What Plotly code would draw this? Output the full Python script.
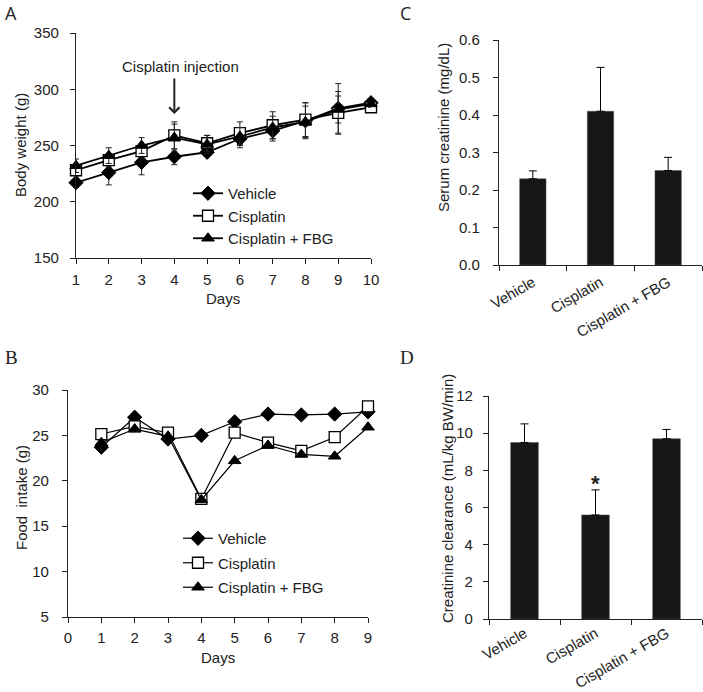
import plotly.graph_objects as go

W, H = 703, 692
FONT = "Liberation Sans, Arial, sans-serif"

# ---------- Panel A: body weight ----------
days_a = [1, 2, 3, 4, 5, 6, 7, 8, 9, 10]
bw_vehicle = [217, 226, 235, 240, 244, 256, 263, 272, 283, 288]
bw_vehicle_err = [3, 11, 11, 7, 3, 8, 9, 16, 22, 3]
bw_cis = [228, 237, 245, 259, 252, 261, 268, 273, 279, 284]
bw_cis_err = [5, 6, 6, 12, 7, 10, 12, 15, 19, 3]
bw_fbg = [232, 241, 250, 257, 251, 258, 266, 271, 282, 287]
bw_fbg_err = [6, 7, 7, 12, 8, 8, 10, 14, 12, 3]

# ---------- Panel B: food intake ----------
days_b = [1, 2, 3, 4, 5, 6, 7, 8, 9]
fi_vehicle = [23.7, 27.0, 24.6, 25.0, 26.5, 27.35, 27.25, 27.35, 27.6]
fi_cis = [25.15, 26.0, 25.3, 18.0, 25.3, 24.2, 23.3, 24.8, 28.2]
fi_fbg = [24.2, 25.7, 24.9, 17.9, 22.2, 23.9, 22.9, 22.7, 25.9]

# ---------- Panels C, D ----------
groups = ["Vehicle", "Cisplatin", "Cisplatin + FBG"]
scr = [0.23, 0.41, 0.252]
scr_err = [0.021, 0.117, 0.035]
ccl = [9.5, 5.6, 9.7]
ccl_err = [1.0, 1.35, 0.5]

series_names = ["Vehicle", "Cisplatin", "Cisplatin + FBG"]


def px_x(p):
    return p / W


def px_y(p):
    return 1 - p / H


fig = go.Figure()

marker_styles = [
    dict(symbol="diamond", size=11, color="black", line=dict(color="black", width=1)),
    dict(symbol="square", size=11, color="white", line=dict(color="black", width=1.3)),
    dict(symbol="triangle-up", size=11, color="black", line=dict(color="black", width=1)),
]

# Panel A traces
for name, ys, es, mk in zip(series_names, [bw_vehicle, bw_cis, bw_fbg],
                            [bw_vehicle_err, bw_cis_err, bw_fbg_err], marker_styles):
    fig.add_trace(go.Scatter(
        x=days_a, y=ys, name=name, mode="lines+markers",
        line=dict(color="black", width=1.8), marker=mk,
        error_y=dict(type="data", array=es, color="#222", thickness=1, width=3),
        xaxis="x", yaxis="y", legend="legend", cliponaxis=False,
    ))

# Panel B traces
for name, ys, mk in zip(series_names, [fi_vehicle, fi_cis, fi_fbg], marker_styles):
    fig.add_trace(go.Scatter(
        x=days_b, y=ys, name=name, mode="lines+markers",
        line=dict(color="black", width=1.2), marker=mk,
        xaxis="x2", yaxis="y2", legend="legend2", legendgroup=name + "b",
        cliponaxis=False,
    ))

# Panel C bars
fig.add_trace(go.Bar(
    x=groups, y=scr, width=0.39, marker=dict(color="#161616", line=dict(color="#555", width=0.5)),
    error_y=dict(type="data", symmetric=False, array=scr_err, arrayminus=[0, 0, 0],
                 color="black", thickness=1, width=4),
    xaxis="x3", yaxis="y3", showlegend=False,
))

# Panel D bars
fig.add_trace(go.Bar(
    x=groups, y=ccl, width=0.39, marker=dict(color="#161616", line=dict(color="#555", width=0.5)),
    error_y=dict(type="data", symmetric=False, array=ccl_err, arrayminus=[0, 0, 0],
                 color="black", thickness=1, width=4),
    xaxis="x4", yaxis="y4", showlegend=False,
))

tickfont = dict(family=FONT, size=15, color="#222")
axis_common = dict(showline=True, linecolor="#222", linewidth=1.2, ticks="outside",
                   ticklen=5, tickcolor="#222", tickwidth=1.2, showgrid=False,
                   zeroline=False, tickfont=tickfont, automargin=False)

fig.update_layout(
    width=W, height=H, margin=dict(l=0, r=0, t=0, b=0),
    paper_bgcolor="white", plot_bgcolor="white",
    font=dict(family=FONT, size=15, color="#222"),
    bargap=0.6,
    xaxis=dict(domain=[px_x(76), px_x(371)], range=[1, 10], anchor="y",
               tickmode="array", tickvals=days_a, ticklabelstandoff=3, **axis_common),
    yaxis=dict(domain=[px_y(258), px_y(33)], range=[150, 350], anchor="x",
               tickmode="array", tickvals=[150, 200, 250, 300, 350], ticklabelstandoff=8,
               **axis_common),
    xaxis2=dict(domain=[px_x(68), px_x(368)], range=[0, 9], anchor="y2",
                tickmode="array", tickvals=list(range(0, 10)), ticklabelstandoff=2, **axis_common),
    yaxis2=dict(domain=[px_y(617), px_y(390)], range=[5, 30], anchor="x2",
                tickmode="array", tickvals=[5, 10, 15, 20, 25, 30], ticklabelstandoff=10,
                **axis_common),
    xaxis3=dict(domain=[px_x(499), px_x(702)], range=[-0.5, 2.5], anchor="y3",
                tickson="boundaries", tickangle=-30, type="category", ticklabelstandoff=2,
                **axis_common),
    yaxis3=dict(domain=[px_y(265), px_y(40)], range=[0, 0.6], anchor="x3",
                tickmode="array", tickvals=[0, 0.1, 0.2, 0.3, 0.4, 0.5, 0.6],
                tickformat=".1f", ticklabelstandoff=10, **axis_common),
    xaxis4=dict(domain=[px_x(489), px_x(702)], range=[-0.5, 2.5], anchor="y4",
                tickson="boundaries", tickangle=-30, type="category", ticklabelstandoff=-1,
                **axis_common),
    yaxis4=dict(domain=[px_y(619), px_y(396)], range=[0, 12], anchor="x4",
                tickmode="array", tickvals=[0, 2, 4, 6, 8, 10, 12], ticklabelstandoff=7,
                **axis_common),
    legend=dict(x=px_x(188), y=px_y(177), xanchor="left", yanchor="top",
                bgcolor="rgba(0,0,0,0)", font=dict(family=FONT, size=15, color="#222"),
                tracegroupgap=0, itemwidth=30),
    legend2=dict(x=px_x(178), y=px_y(522), xanchor="left", yanchor="top",
                 bgcolor="rgba(0,0,0,0)", font=dict(family=FONT, size=15, color="#222"),
                 tracegroupgap=2, itemwidth=30),
)

ann = []
# axis titles
ann.append(dict(text="Body weight (g)", x=px_x(21), y=px_y(145), textangle=-90))
ann.append(dict(text="Days", x=px_x(223), y=px_y(298)))
ann.append(dict(text="Food\u00a0 intake (g)", x=px_x(21), y=px_y(498), textangle=-90))
ann.append(dict(text="Days", x=px_x(218), y=px_y(657)))
ann.append(dict(text="Serum creatinine (mg/dL)", x=px_x(443), y=px_y(128), textangle=-90))
ann.append(dict(text="Creatinine clearance (mL/kg BW/min)", x=px_x(447), y=px_y(499), textangle=-90))
for a in ann:
    a.update(xref="paper", yref="paper", showarrow=False, xanchor="center", yanchor="middle",
             font=dict(family=FONT, size=15, color="#222"))

# panel letters
ann.append(dict(text="A", x=px_x(3), y=px_y(13), xref="paper", yref="paper", showarrow=False,
                xanchor="left", yanchor="middle", font=dict(family="Open Sans, sans-serif", size=18, color="#222")))
ann.append(dict(text="B", x=px_x(3), y=px_y(357), xref="paper", yref="paper", showarrow=False,
                xanchor="left", yanchor="middle", font=dict(family="Liberation Serif, serif", size=19, color="#222")))
ann.append(dict(text="C", x=px_x(398), y=px_y(13), xref="paper", yref="paper", showarrow=False,
                xanchor="left", yanchor="middle", font=dict(family="Open Sans, sans-serif", size=18, color="#222")))
ann.append(dict(text="D", x=px_x(398), y=px_y(357), xref="paper", yref="paper", showarrow=False,
                xanchor="left", yanchor="middle", font=dict(family="Liberation Serif, serif", size=19, color="#222")))

# cisplatin injection arrow + label
ann.append(dict(text="", x=4, y=278, ax=4, ay=311, xref="x", yref="y", axref="x", ayref="y",
                showarrow=True, arrowhead=4, arrowsize=1, arrowwidth=2, arrowcolor="#222"))
ann.append(dict(text="Cisplatin injection", x=4.2, y=320, xref="x", yref="y", showarrow=False,
                xanchor="center", yanchor="middle", font=dict(family=FONT, size=15, color="#222")))

# significance asterisk
ann.append(dict(text="<b>*</b>", x="Cisplatin", y=7.3, xref="x4", yref="y4", showarrow=False,
                xanchor="center", yanchor="middle", font=dict(family=FONT, size=22, color="#222")))

fig.update_layout(annotations=ann)

fig.write_html("out.html", config={"displayModeBar": False},
               post_script="document.body.style.margin='0px';")
